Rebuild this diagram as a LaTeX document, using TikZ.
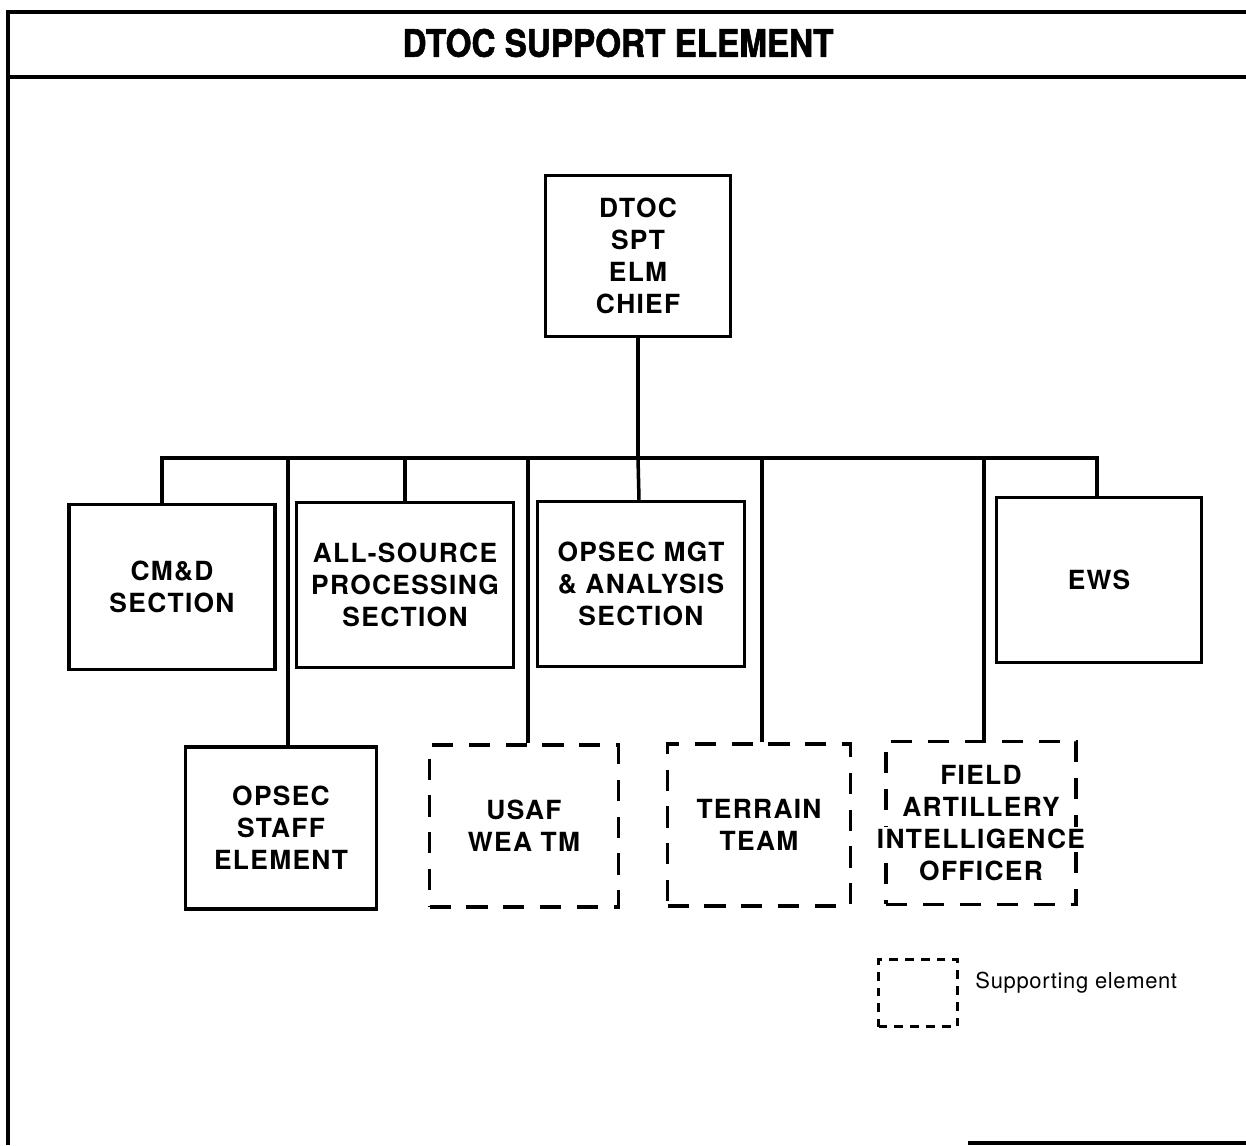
\documentclass[tikz,border=0pt]{standalone}
\usepackage{fontspec}
\setmainfont{TeX Gyre Heros}
\newfontfamily\titlefont[FakeStretch=0.88,FakeBold=1.5]{TeX Gyre Heros}
\newcommand\boxfont{\fontsize{15}{18.2}\selectfont\bfseries\addfontfeature{LetterSpace=5}}
\newcommand\keyfont{\fontsize{12.5}{14}\selectfont\addfontfeature{LetterSpace=3}}
\usetikzlibrary{positioning}

\begin{document}
\begin{tikzpicture}[
  x=0.02cm,y=-0.02cm,
  box/.style={draw,line width=2pt,inner sep=0pt,align=center,font=\boxfont},
  supbox/.style={box,dash pattern=on 12pt off 9pt},
  link/.style={line width=2pt},
  frame/.style={line width=2pt}
]
  \useasboundingbox (0,0) rectangle (1246,1145);
  % Frame and title
  \draw[frame] (1246,12) -- (8,12) -- (8,1145);
  \draw[frame] (8,77) -- (1246,77);
  \draw[frame] (968,1143) -- (1246,1143);
  \node[font=\titlefont\bfseries\fontsize{21.5}{24}\selectfont] (title) at (618,43) {DTOC SUPPORT ELEMENT};
  % Chief
  \node[box,minimum width=3.7cm,minimum height=3.22cm] (chief) at (638,256) {DTOC\\SPT\\ELM\\CHIEF};
  % Sections
  \node[box,minimum width=4.12cm,minimum height=3.3cm] (cmd) at (172,587) {CM\&D\\SECTION};
  \node[box,minimum width=4.34cm,minimum height=3.3cm] (allsrc) at (405,585) {ALL-SOURCE\\PROCESSING\\SECTION};
  \node[box,minimum width=4.14cm,minimum height=3.3cm] (mgt) at (641,584) {OPSEC MGT\\\& ANALYSIS\\SECTION};
  \node[box,minimum width=4.1cm,minimum height=3.3cm] (ews) at (1099,580) {EWS};
  \node[box,minimum width=3.82cm,minimum height=3.24cm] (staff) at (281,828) {OPSEC\\STAFF\\ELEMENT};
  % Supporting elements
  \node[supbox,minimum width=3.78cm,minimum height=3.24cm] (usaf) at (524,826) {USAF\\WEA TM};
  \node[supbox,minimum width=3.66cm,minimum height=3.24cm] (terrain) at (759,825) {TERRAIN\\TEAM};
  \node[supbox,minimum width=3.8cm,minimum height=3.26cm] (fai) at (981,823)
    {FIELD\\ARTILLERY\\\makebox[0pt]{\setlength\fboxsep{1pt}\colorbox{white}{INTELLIGENCE}}\\OFFICER};
  % Bus
  \coordinate (bus) at (638,458);
  \coordinate (tl) at (162,458);
  \coordinate (tr) at (1097,458);
  \draw[link] (chief) -- (bus);
  \draw[link] (tl |- cmd.north) -- (tl) -- (tr) -- (tr |- ews.north);
  \draw[link] (bus) -- (mgt);
  \draw[link] (staff.north -| 288,0) -- (bus -| 288,0);
  \draw[link] (allsrc.north) -- (allsrc.north |- bus);
  \draw[link] (usaf.north -| 528,0) -- (bus -| 528,0);
  \draw[link] (terrain.north -| 762,0) -- (bus -| 762,0);
  \draw[link] (fai.north -| 984,0) -- (bus -| 984,0);
  % Key
  \node[draw,line width=2pt,dash pattern=on 5pt off 4pt,minimum width=1.58cm,minimum height=1.34cm,inner sep=0pt] (legend) at (918,993) {};
  \node[font=\keyfont,right=0.2cm of legend.north east,anchor=west,yshift=-0.5cm] (legtext) {Supporting element};
\end{tikzpicture}
\end{document}
